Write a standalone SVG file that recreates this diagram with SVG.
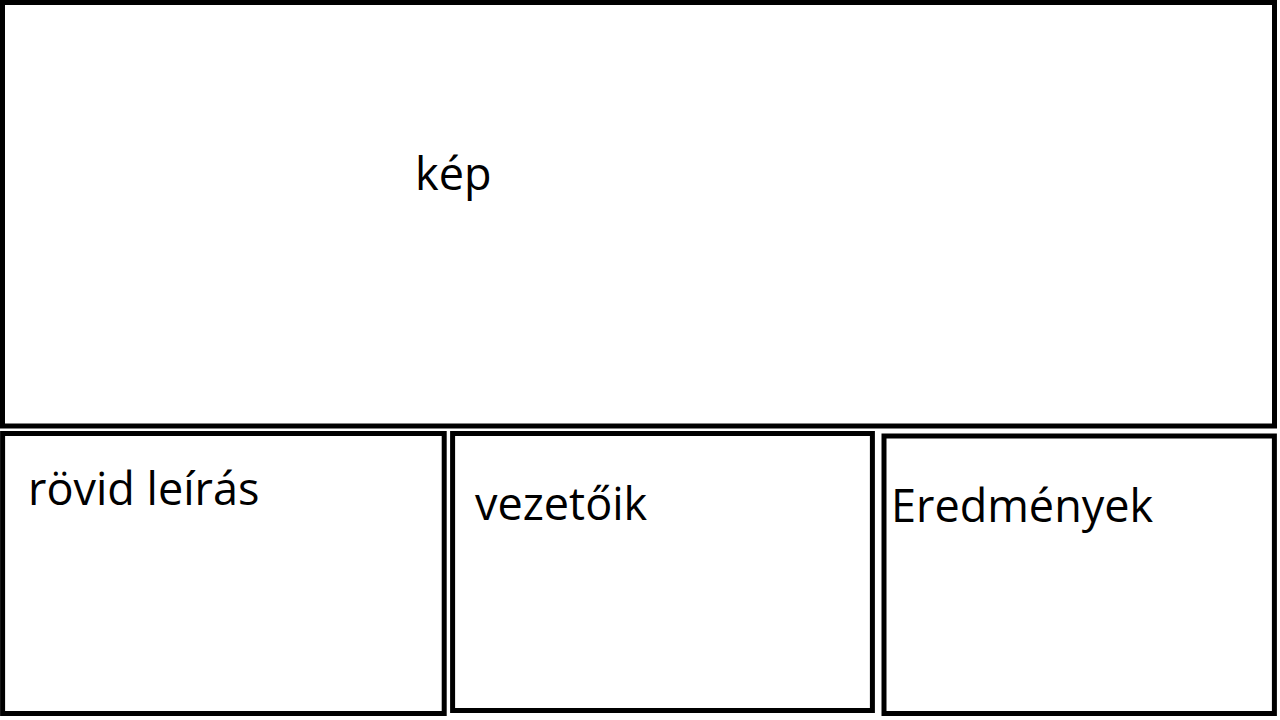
<svg xmlns="http://www.w3.org/2000/svg" width="1280" height="720" viewBox="0 0 1280 720">
<style>
.box{fill:#ffffff;stroke:#000000;stroke-width:5}
.lbl{font-family:"Open Sans","Noto Sans","DejaVu Sans",sans-serif;font-size:45px;fill:#000000}
</style>
<rect x="0" y="0" width="1280" height="720" fill="#ffffff"/>
<g id="connectors"></g>
<g id="kep">
<rect class="box" x="2.5" y="2.5" width="1272" height="423.5"/>
<text class="lbl" x="415" y="190">kép</text>
</g>
<g id="rovid-leiras">
<rect class="box" x="2.6" y="433.5" width="441.6" height="280"/>
<text class="lbl" x="28" y="505">rövid leírás</text>
</g>
<g id="vezetoik">
<rect class="box" x="452.6" y="433.5" width="419.8" height="277"/>
<text class="lbl" x="475" y="520">vezetőik</text>
</g>
<g id="eredmenyek">
<rect class="box" x="884" y="436" width="390.4" height="277.5"/>
<text class="lbl" x="891" y="522">Eredmények</text>
</g>
</svg>
